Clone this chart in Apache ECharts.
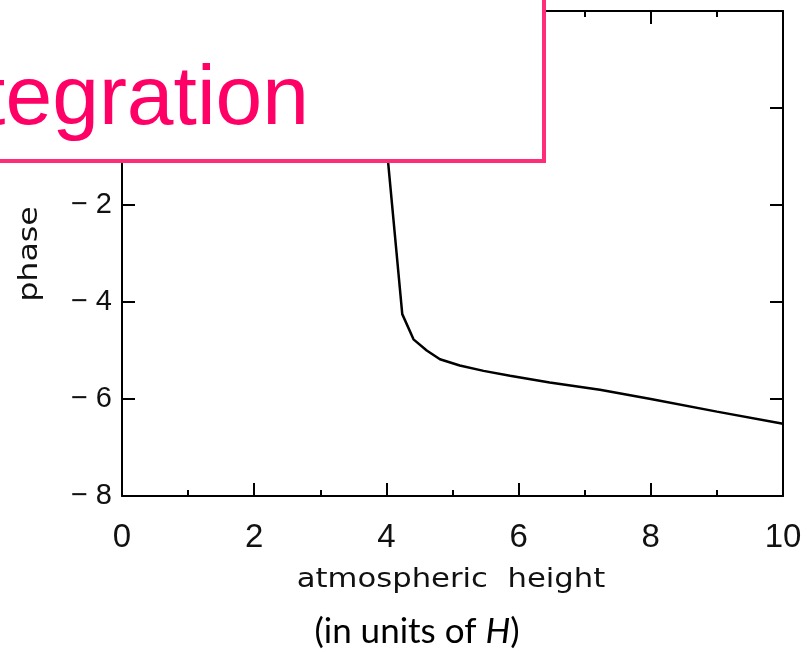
<!DOCTYPE html>
<html>
<head>
<meta charset="utf-8">
<script src="https://cdn.jsdelivr.net/npm/echarts@6/dist/echarts.min.js"></script>
<style>
  html, body { margin: 0; padding: 0; background: #fff; }
  #chart { width: 809px; height: 652px; }
</style>
</head>
<body>
<div id="chart"></div>
<script>
// Phase profile versus atmospheric height (in scale heights H)
const heightH = [3.83, 4.03, 4.24, 4.41, 4.61, 4.81, 5.11, 5.47, 5.87, 6.47, 7.23, 8.0, 9.0, 10.0];
const phase   = [1.9, -1.18, -4.25, -4.77, -5.00, -5.18, -5.31, -5.42, -5.52, -5.66, -5.81, -6.00, -6.26, -6.51];

const xTicks = { min: 0, max: 10, step: 2 };
const yTicks = { min: -8, max: 2, step: 2 };

const xTitle = 'atmospheric  height';
const yTitle = 'phase';
const unitNote = '(in units of {i|H})';
const bannerText = 'tegration';

const ink = '#111';
const pink = '#FF2D78';
const pinkText = '#FF0066';

const chart = echarts.init(document.getElementById('chart'), null, { renderer: 'canvas' });

const tickStyle = { color: '#000', width: 2 };

function xAxisDef(pos, showLabels) {
  return {
    type: 'value', position: pos,
    min: xTicks.min, max: xTicks.max, interval: xTicks.step,
    axisLine: { show: true, onZero: false, lineStyle: { color: '#000', width: 2 } },
    axisTick: { show: true, inside: true, length: 13, lineStyle: tickStyle },
    minorTick: { show: true, splitNumber: 2, length: 6, lineStyle: tickStyle },
    splitLine: { show: false }, minorSplitLine: { show: false },
    axisLabel: {
      show: showLabels, margin: 25, color: ink,
      fontFamily: 'Liberation Sans', fontSize: 33
    }
  };
}

function yAxisDef(pos, showLabels) {
  return {
    type: 'value', position: pos,
    min: yTicks.min, max: yTicks.max, interval: yTicks.step,
    axisLine: { show: true, onZero: false, lineStyle: { color: '#000', width: 2 } },
    axisTick: { show: true, inside: true, length: 13, lineStyle: tickStyle },
    splitLine: { show: false },
    axisLabel: {
      show: showLabels, margin: 10, color: ink,
      fontFamily: 'Liberation Sans', fontSize: 29,
      formatter: v => (v < 0 ? '\u2212 ' + Math.abs(v) : String(v))
    }
  };
}

chart.setOption({
  animation: false,
  backgroundColor: '#fff',
  grid: { left: 122, top: 11, right: 26, bottom: 156, containLabel: false, outerBoundsMode: 'none' },
  xAxis: [xAxisDef('bottom', true), xAxisDef('top', false)],
  yAxis: [yAxisDef('left', true), yAxisDef('right', false)],
  series: [{
    type: 'line',
    data: heightH.map((h, i) => [h, phase[i]]),
    showSymbol: false,
    clip: true,
    lineStyle: { color: '#000', width: 2.5 },
    z: 2
  }],
  graphic: [
    {
      type: 'text', x: 451, y: 580, scaleX: 1.18, z: 10,
      style: {
        text: xTitle, fill: ink, font: '26px "DejaVu Sans"',
        textAlign: 'center', textVerticalAlign: 'middle'
      }
    },
    {
      type: 'text', x: 30, y: 254, rotation: Math.PI / 2, scaleX: 1.22, z: 10,
      style: {
        text: yTitle, fill: ink, font: '26px "DejaVu Sans"',
        textAlign: 'center', textVerticalAlign: 'middle'
      }
    },
    {
      type: 'text', x: 417, y: 632, z: 10,
      style: {
        text: unitNote, fill: '#000', font: '35px Lato',
        textAlign: 'center', textVerticalAlign: 'middle',
        rich: { i: { fontStyle: 'italic', fontSize: 35, fontFamily: 'Lato', fill: '#000' } }
      }
    },
    {
      type: 'rect', z: 20,
      shape: { x: -10, y: -10, width: 554, height: 171 },
      style: { fill: '#fff', stroke: pink, lineWidth: 4 }
    },
    {
      type: 'text', x: 309, y: 101, z: 21,
      style: {
        text: bannerText, fill: pinkText, font: '84px "Liberation Sans"',
        textAlign: 'right', textVerticalAlign: 'middle'
      }
    }
  ]
});
</script>
</body>
</html>
